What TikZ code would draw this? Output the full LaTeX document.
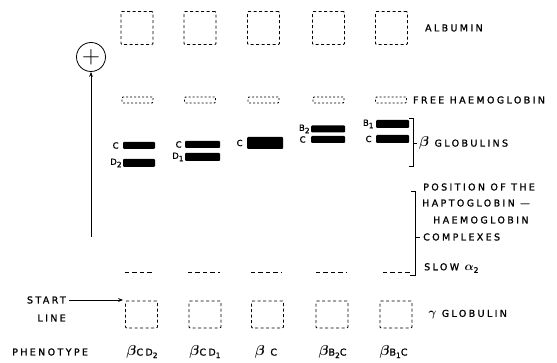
\documentclass[tikz,border=0pt]{standalone}
\usepackage{fontspec}
\setmainfont{DejaVu Sans}
\newfontfamily\letfont[LetterSpace=25,FakeBold=1.2]{DejaVu Sans}
\usetikzlibrary{arrows.meta,positioning}
\usepackage{amsmath}
\newcommand\betasym{{\fontsize{14}{14}\selectfont$\boldsymbol{\beta}$}}
\newcommand\lowdig[1]{\raisebox{-2.5pt}{\fontsize{7.5}{8}\selectfont #1}}

\begin{document}
\begin{tikzpicture}[
  x=1pt, y=-1pt,
  >={Stealth[length=5pt]},
  spot/.style={rectangle, draw, dash pattern=on 3pt off 2.5pt, line width=0.75pt,
               rounded corners=1pt, inner sep=0},
  albspot/.style={spot, minimum width=32pt, minimum height=33pt},
  hbspot/.style={spot, minimum width=31pt, minimum height=6pt, dash pattern=on 2pt off 2pt},
  gamspot/.style={spot, minimum width=32pt, minimum height=27pt},
  slowdash/.style={rectangle, inner sep=0, minimum height=0pt,
                   append after command={(\tikzlastnode.west) edge[dash pattern=on 4.5pt off 3pt,
                   line width=0.8pt] (\tikzlastnode.east)}},
  band/.style={rectangle, fill=black, rounded corners=1pt, inner sep=0,
               minimum width=33pt, minimum height=7pt},
  bandlbl/.style={font=\letfont\fontsize{8.5}{9}\selectfont, inner sep=0},
  lbl/.style={font=\letfont\fontsize{9.5}{10}\selectfont, inner sep=0, anchor=west},
  pheno/.style={font=\letfont\fontsize{9.5}{10}\selectfont, inner sep=0},
  brk/.style={line width=0.8pt},
]
\useasboundingbox (0,0) rectangle (557,363);

% albumin
\node[albspot] (alb1) at (137,28)   {};
\node[albspot] (alb2) at (200,28)   {};
\node[albspot] (alb3) at (263.5,28) {};
\node[albspot] (alb4) at (328.5,28) {};
\node[albspot] (alb5) at (391.5,28) {};
\node[lbl, right=17pt of alb5] (albumin) {ALBUMIN};

% free haemoglobin
\node[hbspot] (hb1) at (137.5,100) {};
\node[hbspot] (hb2) at (200,100)   {};
\node[hbspot] (hb3) at (263.5,100) {};
\node[hbspot] (hb4) at (328.5,100) {};
\node[hbspot] (hb5) at (391,100)   {};
\node[lbl, right=6pt of hb5] (freehb) {FREE HAEMOGLOBIN};

% anode
\node[circle, draw, line width=0.8pt, minimum size=29pt, inner sep=0] (anode) at (91,57)
  {\fontsize{26}{26}\selectfont$+$};
\coordinate (abase) at (91,237);
\draw[->, line width=0.8pt] (abase) -- (anode);

% beta globulin bands
\node[band, minimum width=32pt] (c1) at (139,145.5) {};
\node[band, minimum width=32pt, minimum height=8pt] (d2) at (139,163) {};
\node[band, minimum width=35pt] (c2) at (202.5,144.5) {};
\node[band, minimum width=35pt, minimum height=8pt] (d1) at (202.5,157) {};
\node[band, minimum width=36pt, minimum height=12pt] (c3) at (265,143) {};
\node[band, minimum width=34pt] (b2) at (328,129) {};
\node[band, minimum width=34pt] (c4) at (328,139.5) {};
\node[band, minimum height=8pt] (b1) at (392.5,124) {};
\node[band, minimum height=8pt] (c5) at (392.5,139) {};

\node[bandlbl, left=4pt of c1] {C};
\node[bandlbl, left=1pt of d2] {D\lowdig{2}};
\node[bandlbl, left=3pt of c2] {C};
\node[bandlbl, left=1pt of d1] {D\lowdig{1}};
\node[bandlbl, left=4pt of c3] {C};
\node[bandlbl, left=1pt of b2] {B\lowdig{2}};
\node[bandlbl, left=5pt of c4] {C};
\node[bandlbl, left=2pt of b1] {B\lowdig{1}};
\node[bandlbl, left=4pt of c5] {C};

\draw[brk] (409,118) -- (413,118) -- (413,166) -- (409,166);
\draw[brk] (413,143) -- (417,143);
\node[lbl] (betaglob) at (419,143) {\betasym\ GLOBULINS};

% haptoglobin-haemoglobin complexes
\draw[brk] (411,191) -- (415,191) -- (415,275) -- (410,275);
\draw[brk] (415,237) -- (420,237);
\node[lbl] (pos)   at (423,187) {POSITION OF THE};
\node[lbl] (hapto) at (422,203) {HAPTOGLOBIN —};
\node[lbl] (haem)  at (433,220) {HAEMOGLOBIN};
\node[lbl] (cplx)  at (423,237) {COMPLEXES};

% slow alpha 2
\node[slowdash, minimum width=28pt] (slow1) at (139,272)   {};
\node[slowdash, minimum width=32pt] (slow2) at (204,272)   {};
\node[slowdash, minimum width=31pt] (slow3) at (266.5,272) {};
\node[slowdash, minimum width=31pt] (slow4) at (331.5,272) {};
\node[slowdash, minimum width=27pt] (slow5) at (396.5,272) {};
\node[lbl] (slow) at (424,268) {SLOW {\fontsize{12}{12}\selectfont$\boldsymbol{\alpha}$}\lowdig{2}};

% gamma globulin
\node[gamspot] (gam1) at (141.5,314.5) {};
\node[gamspot] (gam2) at (205,314.5)   {};
\node[gamspot] (gam3) at (267.5,314.5) {};
\node[gamspot] (gam4) at (332,314.5)   {};
\node[gamspot] (gam5) at (396,314.5)   {};
\node[lbl, right=16pt of gam5] (gamglob) {{\fontsize{13}{13}\selectfont$\boldsymbol{\gamma}$}\ GLOBULIN};

% start line
\node[lbl, anchor=east] (start) at (66,300) {START};
\node[lbl, anchor=east] (line)  at (66,318) {LINE};
\draw[->, line width=0.8pt, shorten <=3pt, shorten >=2pt] (start.east) -- (start.east -| gam1.west);

% phenotypes
\node[lbl] (phtitle) at (12,352) {PHENOTYPE};
\node[pheno] (ph1) at (142,352)   {\betasym CD\lowdig{2}};
\node[pheno] (ph2) at (205,352)   {\betasym CD\lowdig{1}};
\node[pheno] (ph3) at (266,352)   {\betasym\ C};
\node[pheno] (ph4) at (332.5,352) {\betasym B\lowdig{2}C};
\node[pheno] (ph5) at (393.5,352) {\betasym B\lowdig{1}C};

\end{tikzpicture}
\end{document}
